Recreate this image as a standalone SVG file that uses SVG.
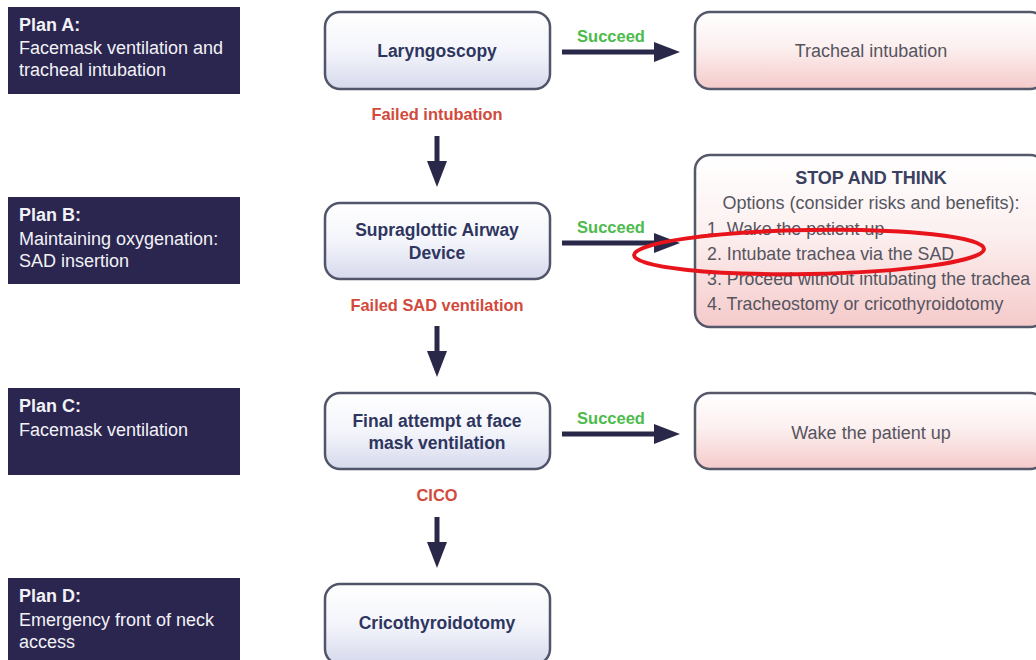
<svg xmlns="http://www.w3.org/2000/svg" width="1036" height="660" viewBox="0 0 1036 660">
<defs>
<linearGradient id="gNode" x1="0" y1="0" x2="0" y2="1">
<stop offset="0" stop-color="#ffffff"/>
<stop offset="0.5" stop-color="#f4f5fb"/>
<stop offset="1" stop-color="#d6d9ec"/>
</linearGradient>
<linearGradient id="gPink" x1="0" y1="0" x2="0" y2="1">
<stop offset="0" stop-color="#ffffff"/>
<stop offset="0.45" stop-color="#fcf0f0"/>
<stop offset="1" stop-color="#f5caca"/>
</linearGradient>
<marker id="ah" markerWidth="6" markerHeight="4" refX="0" refY="2" orient="auto" markerUnits="strokeWidth">
<path d="M0,0 L5.2,2 L0,4 Z" fill="#2a2848"/>
</marker>
</defs>
<style>
.plan{fill:#2b2650;}
.pt{font-family:"Liberation Sans",Arial,sans-serif;font-size:18px;fill:#f2f2f6;}
.ptb{font-weight:bold;}
.node{fill:url(#gNode);stroke:#50556a;stroke-width:2.5;}
.nt{font-family:"Liberation Sans",Arial,sans-serif;font-size:17.5px;font-weight:bold;fill:#2e3660;text-anchor:middle;}
.res{fill:url(#gPink);stroke:#55586a;stroke-width:2.5;}
.rt{font-family:"Liberation Sans",Arial,sans-serif;font-size:18px;fill:#555560;text-anchor:middle;}
.st{font-family:"Liberation Sans",Arial,sans-serif;font-size:18px;font-weight:bold;fill:#3a4060;text-anchor:middle;}
.lt{font-family:"Liberation Sans",Arial,sans-serif;font-size:17.8px;fill:#555560;}
.ok{font-family:"Liberation Sans",Arial,sans-serif;font-size:16.5px;font-weight:bold;fill:#4cbb4c;text-anchor:middle;}
.fail{font-family:"Liberation Sans",Arial,sans-serif;font-size:16.4px;font-weight:bold;fill:#d24a3c;text-anchor:middle;}
.arr{stroke:#2a2848;stroke-width:5;fill:none;marker-end:url(#ah);}
</style>
<rect width="1036" height="660" fill="#ffffff"/>

<g id="planA">
<rect class="plan" x="8" y="7" width="232" height="87"/>
<text class="pt ptb" x="19" y="31">Plan A:</text>
<text class="pt" x="19" y="54">Facemask ventilation and</text>
<text class="pt" x="19" y="76">tracheal intubation</text>
</g>
<g id="planB">
<rect class="plan" x="8" y="197" width="232" height="87"/>
<text class="pt ptb" x="19" y="221">Plan B:</text>
<text class="pt" x="19" y="245">Maintaining oxygenation:</text>
<text class="pt" x="19" y="267">SAD insertion</text>
</g>
<g id="planC">
<rect class="plan" x="8" y="388" width="232" height="87"/>
<text class="pt ptb" x="19" y="412">Plan C:</text>
<text class="pt" x="19" y="436">Facemask ventilation</text>
</g>
<g id="planD">
<rect class="plan" x="8" y="578" width="232" height="90"/>
<text class="pt ptb" x="19" y="602">Plan D:</text>
<text class="pt" x="19" y="626">Emergency front of neck</text>
<text class="pt" x="19" y="648">access</text>
</g>

<g id="laryngoscopy">
<rect class="node" x="325" y="12" width="225" height="77" rx="15"/>
<text class="nt" x="437" y="57">Laryngoscopy</text>
</g>
<g id="sad">
<rect class="node" x="325" y="203" width="225" height="76" rx="15"/>
<text class="nt" x="437" y="236">Supraglottic Airway</text>
<text class="nt" x="437" y="259">Device</text>
</g>
<g id="finalAttempt">
<rect class="node" x="325" y="393" width="225" height="76" rx="15"/>
<text class="nt" x="437" y="427">Final attempt at face</text>
<text class="nt" x="437" y="449">mask ventilation</text>
</g>
<g id="crico">
<rect class="node" x="325" y="584" width="225" height="80" rx="15"/>
<text class="nt" x="437" y="629">Cricothyroidotomy</text>
</g>

<g id="trachealIntubation">
<rect class="res" x="695" y="12" width="350" height="77" rx="15"/>
<text class="rt" x="871" y="57">Tracheal intubation</text>
</g>
<g id="stopThink">
<rect class="res" x="695" y="155" width="350" height="172" rx="15"/>
<text class="st" x="871" y="184">STOP AND THINK</text>
<text class="rt" x="871" y="209">Options (consider risks and benefits):</text>
<text class="lt" x="707" y="235">1. Wake the patient up</text>
<text class="lt" x="707" y="260">2. Intubate trachea via the SAD</text>
<text class="lt" x="707" y="285">3. Proceed without intubating the trachea</text>
<text class="lt" x="707" y="310">4. Tracheostomy or cricothyroidotomy</text>
</g>
<g id="wakeUp">
<rect class="res" x="695" y="393" width="350" height="76" rx="15"/>
<text class="rt" x="871" y="439">Wake the patient up</text>
</g>

<g id="connectors">
<line class="arr" x1="562" y1="52" x2="654" y2="52"/>
<line class="arr" x1="562" y1="243" x2="654" y2="243"/>
<line class="arr" x1="562" y1="434" x2="654" y2="434"/>
<line class="arr" x1="437" y1="136" x2="437" y2="161"/>
<line class="arr" x1="437" y1="326" x2="437" y2="351"/>
<line class="arr" x1="437" y1="517" x2="437" y2="542"/>
<text class="ok" x="611" y="42">Succeed</text>
<text class="ok" x="611" y="233">Succeed</text>
<text class="ok" x="611" y="424">Succeed</text>
<text class="fail" x="437" y="120">Failed intubation</text>
<text class="fail" x="437" y="311">Failed SAD ventilation</text>
<text class="fail" x="437" y="501">CICO</text>
</g>

<ellipse cx="809" cy="252" rx="175" ry="22" fill="none" stroke="#e8141c" stroke-width="4" transform="rotate(-1 809 252)"/>
</svg>
